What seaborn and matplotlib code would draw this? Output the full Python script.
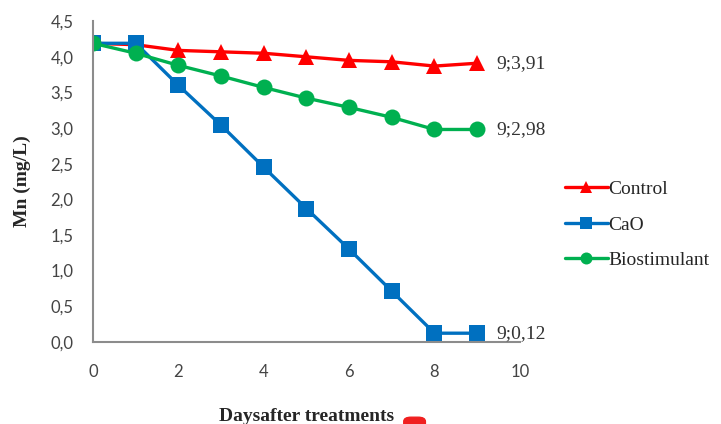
import matplotlib
matplotlib.use("Agg")
import matplotlib.pyplot as plt
import seaborn as sns
import pandas as pd
from matplotlib.patches import FancyBboxPatch

# Datos (Mn en mg/L por día)
days = [0, 1, 2, 3, 4, 5, 6, 7, 8, 9]
control = [4.19, 4.17, 4.09, 4.07, 4.05, 4.00, 3.95, 3.93, 3.87, 3.91]
cao = [4.19, 4.19, 3.60, 3.04, 2.45, 1.87, 1.30, 0.71, 0.12, 0.12]
biostim = [4.19, 4.05, 3.88, 3.73, 3.57, 3.42, 3.29, 3.15, 2.98, 2.98]
treatments = ["Control", "CaO", "Biostimulant"]
end_labels = ["9;3,91", "9;0,12", "9;2,98"]

df = pd.DataFrame({
    "Day": days * 3,
    "Mn": control + cao + biostim,
    "Treatment": [t for t in treatments for _ in days],
})

sns.set_style("white")
plt.rcParams["font.family"] = ["Liberation Serif", "DejaVu Serif"]

fig = plt.figure(figsize=(7.21, 4.24), dpi=100)
ax = fig.add_axes([0.129, 0.194, 0.592, 0.756])

palette = {"Control": "#FF0000", "CaO": "#0070C0", "Biostimulant": "#00B050"}
markers = {"Control": "^", "CaO": "s", "Biostimulant": "o"}
sizes = {"Control": 11, "CaO": 11.5, "Biostimulant": 11.5}

for t in treatments:
    sub = df[df["Treatment"] == t]
    sns.lineplot(data=sub, x="Day", y="Mn", color=palette[t], marker=markers[t],
                 markersize=sizes[t], markeredgewidth=0, linewidth=2.4,
                 label=t, ax=ax)

# etiquetas del último punto
for t, lab in zip(treatments, end_labels):
    sub = df[df["Treatment"] == t]
    ax.annotate(lab, xy=(sub["Day"].iloc[-1], sub["Mn"].iloc[-1]),
                xytext=(14, 0), textcoords="offset points", va="center",
                ha="left", fontsize=14, color="#333333")

ax.set_xlim(0, 10)
ax.set_ylim(0, 4.5)
ax.set_xticks([0, 2, 4, 6, 8, 10])
ax.set_yticks([i * 0.5 for i in range(10)])
ax.set_yticklabels([f"{i * 0.5:.1f}".replace(".", ",") for i in range(10)])
ax.tick_params(axis="x", length=0, pad=16, labelsize=12, labelcolor="#444444")
ax.tick_params(axis="y", length=0, pad=14, labelsize=12, labelcolor="#444444")
for lbl in ax.get_xticklabels() + ax.get_yticklabels():
    lbl.set_family(["Lato", "DejaVu Sans"])

for s in ["top", "right"]:
    ax.spines[s].set_visible(False)
for s in ["left", "bottom"]:
    ax.spines[s].set_color("#8c8c8c")
    ax.spines[s].set_linewidth(1.5)

ax.set_xlabel("Daysafter treatments", fontsize=14, fontweight="bold", labelpad=20)
ax.set_ylabel("Mn (mg/L)", fontsize=14, fontweight="bold", labelpad=14)

ax.legend(loc="center left", bbox_to_anchor=(0.759, 0.47),
          bbox_transform=fig.transFigure, frameon=False, fontsize=14,
          labelspacing=0.93, handlelength=2.2, handletextpad=0.05,
          markerscale=0.75)

# pequeña marca roja del original
fig.patches.append(FancyBboxPatch((0.56, -0.02), 0.03, 0.036, boxstyle="round,pad=0,rounding_size=0.01",
                                  transform=fig.transFigure, color="#F02020", zorder=5))

fig.savefig("out.png", dpi=100)
